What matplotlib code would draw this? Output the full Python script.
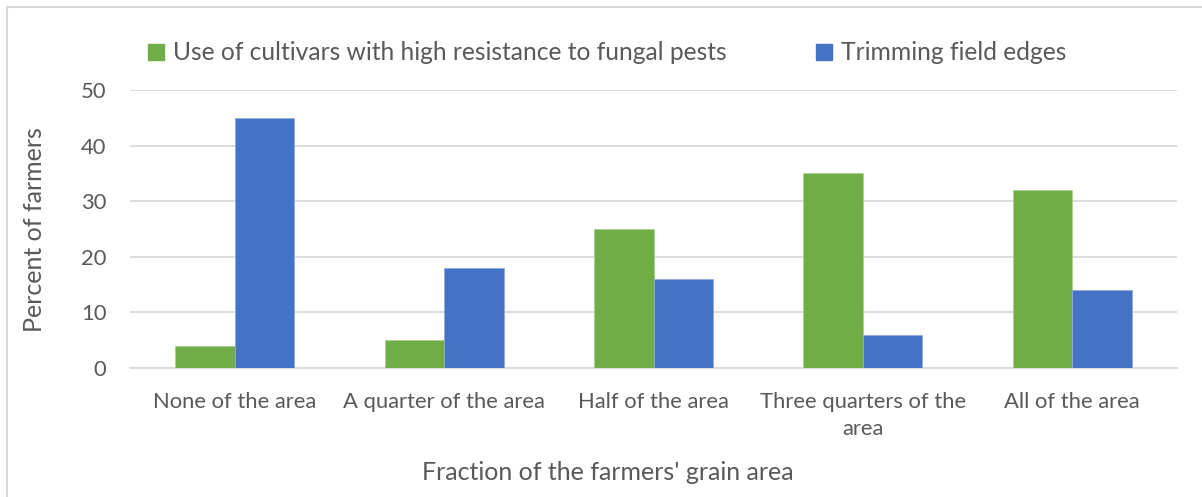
import numpy as np
import matplotlib
matplotlib.use("Agg")
import matplotlib.pyplot as plt
from matplotlib.lines import Line2D

# Data
categories = ["None of the area", "A quarter of the area", "Half of the area",
              "Three quarters of the\narea", "All of the area"]
resistant_cultivars = [4, 5, 25, 35, 32]
trimming_edges = [45, 18, 16, 6, 14]
series_names = ["Use of cultivars with high resistance to fungal pests",
                "Trimming field edges"]
y_ticks = [0, 10, 20, 30, 40, 50]

green = "#70AD47"
blue = "#4472C4"
text_col = "#595959"
grid_col = "#D9D9D9"

plt.rcParams['font.family'] = ['Lato', 'DejaVu Sans']

W, H = 1202, 497
fig = plt.figure(figsize=(W / 100, H / 100), dpi=100)

# plot area in pixel coords of the reference
left, right, top, bottom = 130, 1177, 90, 368
ax = fig.add_axes([left / W, 1 - bottom / H, (right - left) / W, (bottom - top) / H])

x = np.arange(len(categories))
bw = 0.284
ax.bar(x - bw / 2, resistant_cultivars, bw, color=green, edgecolor="#A9D18E", linewidth=0.6,
       label=series_names[0], zorder=3)
ax.bar(x + bw / 2, trimming_edges, bw, color=blue, edgecolor="#8FAADC", linewidth=0.6,
       label=series_names[1], zorder=3)

ax.set_xlim(-0.5, len(categories) - 0.5)
ax.set_ylim(0, 50)
ax.set_yticks(y_ticks)
ax.yaxis.grid(True, color=grid_col, linewidth=1.3, zorder=0)
ax.set_axisbelow(True)
for s in ["top", "right", "left"]:
    ax.spines[s].set_visible(False)
ax.spines["bottom"].set_color(grid_col)
ax.spines["bottom"].set_linewidth(1.3)
ax.tick_params(axis="both", length=0, colors=text_col, labelsize=15.8)
ax.tick_params(axis="x", pad=17)
ax.tick_params(axis="y", pad=17)
ax.set_xticks(x)
ax.set_xticklabels(categories, linespacing=1.45)

fig.text(35 / W, 1 - 230 / H, "Percent of farmers", color=text_col, fontsize=18,
         rotation=90, ha="center", va="center")
fig.text(608 / W, 1 - 473 / H, "Fraction of the farmers' grain area", color=text_col,
         fontsize=18, ha="center", va="center")

handles = [Line2D([], [], marker="s", linestyle="", markersize=11, color=green),
           Line2D([], [], marker="s", linestyle="", markersize=11, color=blue)]
leg = fig.legend(handles, series_names, loc="center left", bbox_to_anchor=(135 / W, 1 - 53 / H),
                 ncol=2, frameon=False, fontsize=17.7, labelcolor=text_col,
                 handlelength=0.7, handletextpad=0.35, columnspacing=3.6, borderpad=0)

# outer chart border (only top and left edges are inside the picture)
fig.add_artist(Line2D([7 / W, 1.0], [1 - 7 / H, 1 - 7 / H], color="#D9D9D9", linewidth=1.5,
                      transform=fig.transFigure))
fig.add_artist(Line2D([7 / W, 7 / W], [1 - 7 / H, 0], color="#D9D9D9", linewidth=1.5,
                      transform=fig.transFigure))

fig.savefig("out.png", dpi=100, facecolor="white")
